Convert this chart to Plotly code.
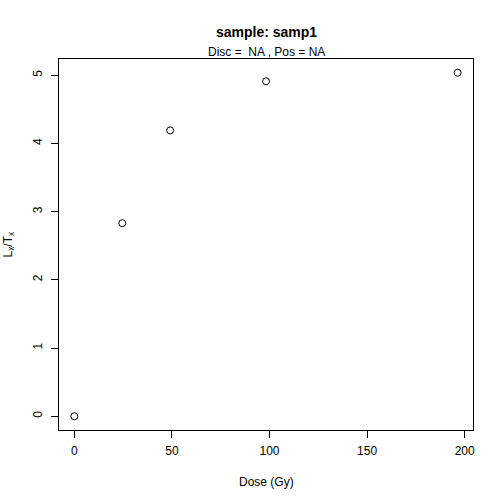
import plotly.graph_objects as go

dose = [0.0, 24.55, 49.1, 98.2, 196.4]
lxtx = [0.0, 2.83, 4.19, 4.91, 5.035]
x_ticks = [0, 50, 100, 150, 200]
y_ticks = [0, 1, 2, 3, 4, 5]
title_text = "sample: samp1"
subtitle_text = "Disc =  NA , Pos = NA"
xlab = "Dose (Gy)"
ylab = "L<sub>x</sub>/T<sub>x</sub>"

FONT = "Liberation Sans, Arial, Helvetica, sans-serif"

fig = go.Figure()
fig.add_trace(go.Scatter(
    x=dose, y=lxtx, mode="markers",
    marker=dict(symbol="circle-open", size=7, color="black", line=dict(width=1, color="black")),
    showlegend=False, hoverinfo="skip",
))

xmin, xmax = min(dose), max(dose)
ymin, ymax = min(lxtx), max(lxtx)
xe = (xmax - xmin) * 0.04
ye = (ymax - ymin) * 0.04

axis_common = dict(
    showgrid=False, zeroline=False, showline=True, linecolor="black", linewidth=1,
    mirror=True, ticks="outside", ticklen=7, tickwidth=1, tickcolor="black",
    tickfont=dict(family=FONT, size=12, color="black"),
)

fig.update_layout(
    width=504, height=504,
    margin=dict(l=59, r=31, t=59, b=74, pad=0),
    paper_bgcolor="white", plot_bgcolor="white",
    font=dict(family=FONT, color="black"),
    xaxis=dict(range=[xmin - xe, xmax + xe], tickvals=x_ticks, ticklabelstandoff=3, **axis_common),
    yaxis=dict(range=[ymin - ye, ymax + ye], tickvals=y_ticks, tickangle=-90, ticklabelstandoff=4, **axis_common),
    annotations=[
        dict(text="<b>" + title_text + "</b>", x=0.5, y=1, xref="paper", yref="paper",
             yanchor="bottom", yshift=17, showarrow=False, font=dict(size=14, family=FONT)),
        dict(text=subtitle_text, xref="paper", yref="paper", x=0.5, y=1, yanchor="bottom",
             showarrow=False, font=dict(size=12, family=FONT), yshift=-2),
        dict(text=xlab, xref="paper", yref="paper", x=0.5, y=0, yanchor="middle",
             yshift=-52, showarrow=False, font=dict(size=12, family=FONT)),
        dict(text=ylab, xref="paper", yref="paper", x=0, y=0.5, xanchor="center",
             xshift=-51, textangle=-90, showarrow=False, font=dict(size=12, family=FONT)),
    ],
)

fig.write_html("out.html", config={"displayModeBar": False},
               post_script="document.body.style.margin='0px';")
